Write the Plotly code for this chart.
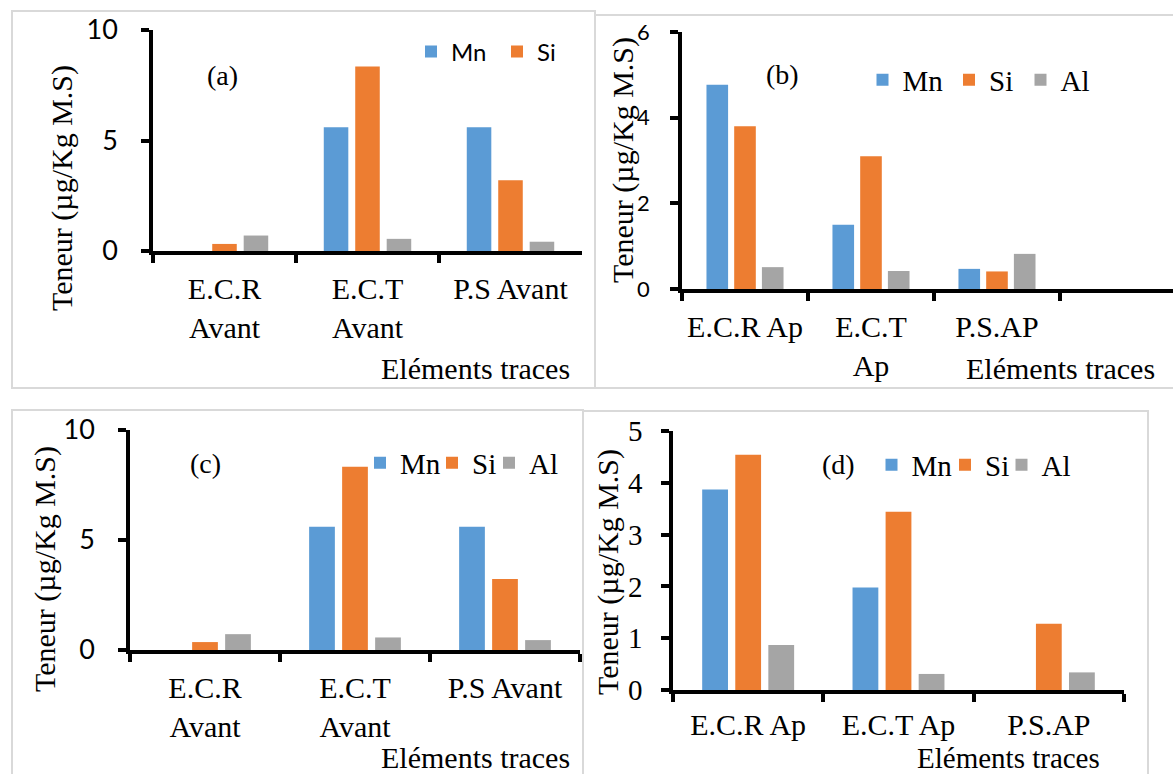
import plotly.graph_objects as go

W, H = 1173, 774

# ---------------- data ----------------
series_names = ["Mn", "Si", "Al"]
series_colors = ["#5B9BD5", "#ED7D31", "#A5A5A5"]

categories_a = ["E.C.R<br>Avant", "E.C.T<br>Avant", "P.S Avant"]
mn_a = [0, 5.6, 5.6]
si_a = [0.32, 8.35, 3.2]
al_a = [0.7, 0.55, 0.42]

categories_b = ["E.C.R Ap", "E.C.T<br>Ap", "P.S.AP"]
mn_b = [4.77, 1.5, 0.47]
si_b = [3.8, 3.1, 0.41]
al_b = [0.51, 0.42, 0.82]

categories_c = ["E.C.R<br>Avant", "E.C.T<br>Avant", "P.S Avant"]
mn_c = [0, 5.6, 5.6]
si_c = [0.36, 8.33, 3.23]
al_c = [0.72, 0.57, 0.45]

categories_d = ["E.C.R Ap", "E.C.T Ap", "P.S.AP"]
mn_d = [3.87, 1.98, 0]
si_d = [4.54, 3.44, 1.28]
al_d = [0.87, 0.31, 0.34]

panel_labels = ["(a)", "(b)", "(c)", "(d)"]
y_title = "Teneur (µg/Kg M.S)"
x_title = "Eléments traces"

SERIF = "Liberation Serif, Times New Roman, serif"
SANS = "Lato, Carlito, Open Sans, sans-serif"


def fx(p):
    return p / W


def fy(p):
    return 1 - p / H


fig = go.Figure()

panels = [
    dict(ax="", cats=categories_a, vals=[mn_a, si_a, al_a], legend="legend",
         show=[True, True, False], lw=[41, 30, 30]),
    dict(ax="2", cats=categories_b, vals=[mn_b, si_b, al_b], legend="legend2",
         show=[True, True, True], lw=[41.5, 26.5, 30]),
    dict(ax="3", cats=categories_c, vals=[mn_c, si_c, al_c], legend="legend3",
         show=[True, True, True], lw=[27, 12, 30]),
    dict(ax="4", cats=categories_d, vals=[mn_d, si_d, al_d], legend="legend4",
         show=[True, True, True], lw=[28.5, 11.5, 30]),
]

for p in panels:
    for name, col, v, s, lw in zip(series_names, series_colors, p["vals"], p["show"], p["lw"]):
        fig.add_trace(go.Bar(
            x=p["cats"], y=v, name=name,
            marker=dict(color=col, line=dict(width=0)),
            xaxis="x" + p["ax"], yaxis="y" + p["ax"],
            legend=p["legend"], showlegend=s, legendwidth=lw,
            hoverinfo="x+y+name",
        ))

axis_common = dict(
    showline=True, linewidth=3.5, linecolor="black",
    ticks="outside", ticklen=8, tickwidth=3.5, tickcolor="black",
    showgrid=False, zeroline=False, automargin=False,
)

xfont = dict(family=SERIF, size=30, color="black")

layout = dict(
    width=W, height=H, autosize=False,
    template="none",
    margin=dict(l=0, r=0, t=0, b=0, pad=0, autoexpand=False),
    paper_bgcolor="white", plot_bgcolor="rgba(0,0,0,0)",
    barmode="group", bargap=0.34, bargroupgap=0.22,
    # panel a
    xaxis=dict(domain=[fx(153), fx(582)], anchor="y", type="category",
               tickson="boundaries", range=[-0.5, 2.5], tickfont=xfont, tickangle=0,
               ticklabelstandoff=8, **axis_common),
    yaxis=dict(domain=[fy(251), fy(30)], anchor="x", range=[0, 10],
               tickvals=[0, 5, 10], tickfont=dict(family=SANS, size=27, color="black"),
               ticklabelstandoff=18, **axis_common),
    # panel b
    xaxis2=dict(domain=[fx(682), 1.0], anchor="y2", type="category",
                tickson="boundaries", range=[-0.5, 3.397], tickfont=xfont, tickangle=0,
                ticklabelstandoff=8, **axis_common),
    yaxis2=dict(domain=[fy(289), fy(32)], anchor="x2", range=[0, 6],
                tickvals=[0, 2, 4, 6], tickfont=dict(family=SANS, size=22, color="black"),
                ticklabelstandoff=16, **axis_common),
    # panel c
    xaxis3=dict(domain=[fx(130), fx(580)], anchor="y3", type="category",
                tickson="boundaries", range=[-0.5, 2.5], tickfont=xfont, tickangle=0,
                ticklabelstandoff=8, **axis_common),
    yaxis3=dict(domain=[fy(650), fy(430)], anchor="x3", range=[0, 10],
                tickvals=[0, 5, 10], tickfont=dict(family=SANS, size=27, color="black"),
                ticklabelstandoff=18, **axis_common),
    # panel d
    xaxis4=dict(domain=[fx(673), fx(1124)], anchor="y4", type="category",
                tickson="boundaries", range=[-0.5, 2.5], tickfont=xfont, tickangle=0,
                ticklabelstandoff=5, **axis_common),
    yaxis4=dict(domain=[fy(690), fy(431)], anchor="x4", range=[0, 5],
                tickvals=[0, 1, 2, 3, 4, 5], tickfont=dict(family=SERIF, size=29, color="black"),
                ticklabelstandoff=13, **axis_common),
)

leg_common = dict(orientation="h", xanchor="left", yanchor="middle",
                  bgcolor="rgba(0,0,0,0)", borderwidth=0, traceorder="normal")
layout["legend"] = dict(x=fx(411), y=fy(52), font=dict(family=SANS, size=24, color="black"), **leg_common)
layout["legend2"] = dict(x=fx(862.5), y=fy(80), font=dict(family=SERIF, size=29, color="black"), **leg_common)
layout["legend3"] = dict(x=fx(360), y=fy(463), font=dict(family=SERIF, size=29, color="black"), **leg_common)
layout["legend4"] = dict(x=fx(871.5), y=fy(465), font=dict(family=SERIF, size=29, color="black"), **leg_common)

fig.update_layout(**layout)

# panel borders
border = dict(color="#D9D9D9", width=2)
boxes = [(12, 11, 595, 388), (595, 15, 1190, 388), (12, 410, 583, 800), (583, 411, 1148, 800)]
for (x0, y0, x1, y1) in boxes:
    fig.add_shape(type="rect", xref="paper", yref="paper",
                  x0=fx(x0), x1=fx(x1), y0=fy(y0), y1=fy(y1),
                  line=border, fillcolor="rgba(0,0,0,0)", layer="below")

# panel letters
letter_pos = [(223, 76), (782, 74), (205, 463), (838, 464)]
for txt, (x, y) in zip(panel_labels, letter_pos):
    fig.add_annotation(text=txt, x=fx(x), y=fy(y), xref="paper", yref="paper",
                       showarrow=False, xanchor="center", yanchor="middle",
                       font=dict(family=SERIF, size=28, color="black"))

# y titles
ytitle_pos = [(62, 188), (623, 160), (45, 569), (608, 572)]
for (x, y) in ytitle_pos:
    fig.add_annotation(text=y_title, x=fx(x), y=fy(y), xref="paper", yref="paper",
                       showarrow=False, xanchor="center", yanchor="middle", textangle=-90,
                       font=dict(family=SERIF, size=30, color="black"))

# x titles
xtitle_pos = [(572, 368, 30), (1157, 368, 30), (572, 757, 30), (1102, 758, 29)]
for (x, y, fs) in xtitle_pos:
    fig.add_annotation(text=x_title, x=fx(x), y=fy(y), xref="paper", yref="paper",
                       showarrow=False, xanchor="right", yanchor="middle",
                       font=dict(family=SERIF, size=fs, color="black"))

fig.write_html("out.html", config={"displayModeBar": False},
               post_script="document.body.style.margin='0px';")
